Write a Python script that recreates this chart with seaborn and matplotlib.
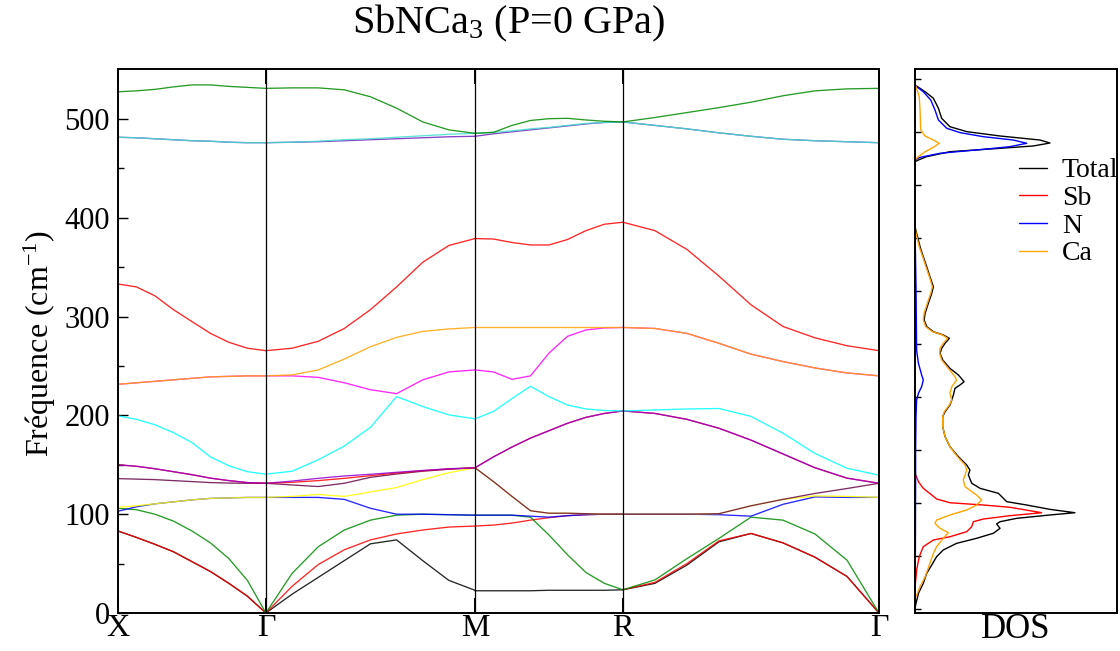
import numpy as np
import pandas as pd
import matplotlib
matplotlib.use("Agg")
import matplotlib.pyplot as plt
import seaborn as sns

sns.set_theme(style="ticks")
plt.rcParams['font.family'] = ['Liberation Serif', 'DejaVu Serif']
plt.rcParams['mathtext.fontset'] = 'custom'
plt.rcParams['mathtext.rm'] = 'Liberation Serif'
plt.rcParams['mathtext.it'] = 'Liberation Serif:italic'
for key in ['text.color', 'axes.labelcolor', 'xtick.color', 'ytick.color', 'axes.edgecolor']:
    plt.rcParams[key] = 'black'

# ---------------- data ----------------
k_labels = ['X', 'Γ', 'M', 'R', 'Γ']
k_nodes = [0.0, 0.5, 1.2071, 1.7071, 2.5731]

line_colors = ['#000000', '#ff0000', '#008b00', '#0000ff', '#ffff00', '#670748',
               '#ff0000', '#9400d3', '#00ffff', '#ff00ff', '#ffa500', '#ff0000',
               '#7221bc', '#40e0d0', '#008b00']

# X -> Gamma
seg_XG = [
    [83, 76.5, 69.5, 62, 52, 42, 30, 17, 0],
    [83, 76.5, 69.5, 62, 52, 42, 30, 17, 0],
    [106, 104.5, 100, 93, 83, 71, 55, 33, 0],
    [103, 107.5, 110.5, 112.5, 114.5, 116, 116.5, 117, 117],
    [107, 108.5, 110.5, 112.5, 114.5, 116, 116.5, 117, 117],
    [136, 135.5, 135, 134, 133, 132, 131.5, 131.3, 131.3],
    [150, 148.5, 146, 143, 140, 136.5, 134, 132, 131.3],
    [150, 148.5, 146, 143, 140, 136.5, 134, 132, 131.3],
    [199.5, 196, 190.5, 182.5, 172.5, 158, 149, 143, 140.5],
    [231.5, 233, 234.5, 236, 237.5, 239, 239.5, 240, 240],
    [231.5, 233, 234.5, 236, 237.5, 239, 239.5, 240, 240],
    [333, 330, 321, 307, 295, 283, 274, 268, 265.5],
    [481.5, 481, 480, 479, 478, 477.5, 476.5, 476, 476],
    [481.5, 481, 480, 479, 478, 477.5, 476.5, 476, 476],
    [527.5, 528.5, 530, 532.5, 534.5, 534.5, 533, 532, 531],
]

# Gamma -> M
seg_GM = [
    [0, 19, 36, 53, 70, 74, 53, 33, 23],
    [0, 27, 49, 64, 74, 80, 84, 87, 88],
    [0, 40, 67, 84, 94, 99, 100, 99.5, 99],
    [117, 117, 117, 115, 106, 100, 100, 99.5, 99],
    [117, 118, 120, 118, 122.5, 127, 135, 142, 147],
    [131.3, 129.6, 128, 131.3, 137.3, 140.7, 143.5, 145.5, 147],
    [131.3, 132.3, 134, 136.3, 139, 141.7, 144, 145.8, 147],
    [131.3, 133.5, 136.3, 138.7, 140.4, 142.4, 144.3, 146, 147],
    [140.5, 143.5, 155, 169, 188, 219, 209, 200.5, 196.5],
    [240, 240, 238.5, 233, 226, 222, 236, 244, 246],
    [240, 241, 246, 257, 269.5, 279, 285, 287.5, 289],
    [265.5, 268, 275, 288, 307, 330, 355, 372, 379],
    [476, 476.5, 477, 478, 479, 480, 481, 482, 482.5],
    [476, 476.5, 477.5, 479, 480, 481.5, 483, 484.5, 485.5],
    [531, 531.5, 531.5, 529.5, 522.5, 511, 497, 489, 485.5],
]

# M -> R
seg_MR = [
    [22.5, 22.5, 22.5, 22.5, 23, 23, 23, 23, 23.5],
    [88, 89, 91, 94, 96.5, 98.5, 99.5, 100, 100],
    [99, 99, 99, 97, 79, 59, 41, 30, 23.5],
    [99, 99, 99, 98, 97, 98.5, 99.5, 100, 100],
    [147, 133, 118, 103.5, 101, 101, 100.5, 100, 100],
    [147, 133, 118, 103.5, 101, 101, 100.5, 100, 100],
    [147, 158, 168, 177, 184.5, 192, 198, 202, 204.5],
    [147, 158, 168, 177, 184.5, 192, 198, 202, 204.5],
    [196.5, 204, 217, 229.5, 219, 210.5, 206.5, 205, 204.5],
    [246, 244, 236.5, 240, 263, 280, 286.5, 288.5, 289],
    [289, 289, 289, 289, 289, 289, 289, 289, 289],
    [379, 378.5, 375, 372.5, 372.5, 378, 387, 393.5, 395.5],
    [482.5, 485, 487, 489, 491, 493, 495, 496.5, 497],
    [485.5, 486.5, 488, 490, 491.5, 493.5, 495.5, 496.5, 497],
    [485.5, 486.5, 493.5, 498.5, 500.3, 500.7, 499, 497.7, 497],
]

# R -> Gamma
seg_RG = [
    [23.5, 30, 48.5, 72, 80.5, 71, 56.5, 37, 0],
    [23.5, 31, 50, 73, 80.5, 71, 56.5, 37, 0],
    [23.5, 33.5, 55, 75.5, 97, 94, 80, 53.5, 0],
    [100, 100, 100, 99.5, 98, 110, 117.5, 117, 117],
    [100, 100, 100, 100.5, 108.5, 115, 118.5, 118, 117],
    [100, 100, 100, 100.5, 108.5, 115, 121, 126, 131.3],
    [204.5, 202, 196, 187, 175, 161, 147, 136.5, 131.3],
    [204.5, 202, 196, 187, 175, 161, 147, 136.5, 131.3],
    [204.5, 205.5, 206.5, 207, 199, 182, 161.5, 146.5, 139.5],
    [289, 288, 283, 273, 262, 254.5, 248, 243, 240],
    [289, 288, 283, 273, 262, 254.5, 248, 243, 240],
    [395.5, 387, 368, 341, 312, 290, 278.5, 270.5, 265.5],
    [497, 493.5, 490, 486, 482.5, 479.5, 478, 477, 476],
    [497, 493.5, 490, 486, 482.5, 479.5, 478, 477, 476],
    [497, 501.5, 506.5, 511.5, 517, 523.5, 528.5, 530.5, 531],
]
segments = [seg_XG, seg_GM, seg_MR, seg_RG]

# DOS (frequency, density in arbitrary units)
total_f = [4.7, 9.8, 19.9, 30, 40.2, 48.6, 57, 63.8, 70.5, 75.6, 80.7, 85.7, 90.1, 92.4,
           95.8, 99.2, 101.5, 104.9, 109.3, 112.7, 121.1, 126.2, 131.3, 139.7, 144.7,
           149.8, 158.2, 168.3, 178.4, 188.6, 198.7, 203.8, 210.5, 215.6, 220.6, 227.4,
           230.8, 234.1, 240.9, 247.6, 256.1, 262.8, 267.9, 273, 278, 281.4, 284.7,
           289.8, 296.6, 303.3, 313.5, 323.6, 330.3, 340.4, 350.5, 360.6, 370.7, 384.3,
           391, 456.8, 458.5, 461.9, 466.9, 470.3, 472.7, 475.7, 478.7, 482.8, 487.2,
           492.2, 500.7, 510.8, 521, 527.6, 532.1, 534.4]
total_d = [0, 0.5, 1.7, 4.1, 5.8, 8.3, 10.7, 14, 20.6, 30.5, 38.8, 42.1, 40.4, 42.1,
           50.3, 66.8, 79.2, 66.8, 55.3, 45.4, 41.3, 32.2, 28.1, 26.4, 27.2,
           25.6, 21.5, 17.3, 14.9, 13.7, 13.7, 14.9, 17.3, 18.2, 19, 19.8,
           22.3, 24.3, 21.5, 17.3, 13.7, 12.4, 13.2, 14.9, 17, 14, 9.1,
           5.8, 4.5, 5, 6.6, 8.3, 9.1, 7.4, 5.8, 4.1, 2.5, 0.8,
           0, 0, 1.7, 5.8, 17.3, 42.1, 58.6, 66.8, 61.9, 42.1, 25.6,
           17.3, 13.2, 11.6, 9.1, 5, 1.7, 0]

sb_f = [23.3, 30, 43.5, 57, 67.1, 73.9, 77.2, 82.3, 87.4, 92.4, 95.1, 98.5, 101.5,
        107, 109.3, 111.6, 115.4, 119.4, 126.2, 132.9, 141.4]
sb_d = [0, 0.2, 0.8, 2.1, 4.1, 9.1, 17.3, 25.6, 28.1, 28.9, 33.8, 47, 62.7,
        47, 33.8, 17.3, 10.7, 8.3, 4.1, 1.7, 0]

n_f = [20, 63.8, 131.3, 165, 198.7, 215.6, 222.4, 229.1, 235.8, 240.9, 252.7, 266, 330,
       391, 458.5, 461.2, 465.3, 469.3, 472, 475.4, 478.7, 482.1, 486.2, 490.6, 499,
       509.1, 519.2, 527.6, 532.7, 534.4]
n_d = [0, 0.2, 0.3, 0.3, 0.5, 0.8, 1.7, 3.3, 4.1, 3.3, 1.7, 0.8, 0.5,
       0, 0, 2.5, 12.4, 33.8, 47, 55.3, 48.7, 33.8, 22.3, 15.7, 11.6,
       9.9, 7.8, 4.1, 0.8, 0]

ca_f = [14.8, 18.2, 26.6, 36.7, 50.3, 60.4, 67.1, 75.6, 81.3, 85.7, 90.8, 94.1, 99.2,
        104.3, 109.3, 114.4, 119.4, 127.8, 134.6, 144.7, 149.8, 158.2, 168.3, 178.4,
        188.6, 198.7, 203.8, 210.5, 215.6, 222.4, 229.1, 235.8, 239.2, 247.6, 256.1,
        262.8, 267.9, 273, 278, 281.4, 284.7, 289.8, 296.6, 303.3, 313.5, 323.6, 330.3,
        340.4, 350.5, 360.6, 370.7, 384.3, 391, 458.5, 461.9, 466.9, 471.3, 475.4,
        478.7, 482.8, 488.9, 509.1, 522.6, 532.7, 536.1]
ca_d = [0, 0.8, 2.5, 5, 7.4, 9.1, 10.7, 14, 16.5, 12.4, 9.9, 10.7, 17.3,
        25.6, 30.5, 33, 30.5, 24.8, 23.9, 25.6, 24.8, 21, 17.3, 14.9,
        13.7, 13.7, 14.5, 17, 18.2, 17.3, 18.2, 20.6, 19.8, 16.5, 13.2,
        12.2, 12.4, 14, 16.2, 13.5, 8.6, 5.3, 4.1, 4.5, 6.1, 7.8, 8.6,
        7.1, 5.4, 3.8, 2.1, 0.5, 0, 0, 1.7, 5, 9.1, 12,
        9.1, 5, 2.8, 2.5, 2.1, 0.5, 0]

dos_names = ['Total', 'Sb', 'N', 'Ca']
dos_colors = ['#000000', '#ff0000', '#0000ff', '#ffa500']
dos_ticks = [4, 57.5, 111, 165, 218.5, 272, 326, 379.5, 433, 486.5, 540]

# ---------------- figure ----------------
W, H = 1120, 651
fig = plt.figure(figsize=(W / 100, H / 100), dpi=100)
ax = fig.add_axes([118 / W, 38 / H, 761 / W, 544 / H])
ax2 = fig.add_axes([915 / W, 38 / H, 202 / W, 544 / H])
YMAX = 550.6

for s, seg in enumerate(segments):
    kk = np.linspace(k_nodes[s], k_nodes[s + 1], len(seg[0]))
    for b, vals in enumerate(seg):
        sns.lineplot(x=kk, y=vals, color=line_colors[b], lw=0.95, alpha=0.85,
                     sort=False, estimator=None, ax=ax, legend=False)

for kx in k_nodes[1:-1]:
    ax.axvline(kx, color='black', lw=0.9, zorder=3)

ax.set_xlim(k_nodes[0], k_nodes[-1])
ax.set_ylim(0, YMAX)
ax.set_xticks(k_nodes)
ax.set_xticklabels(k_labels, fontsize=23)
ax.set_yticks(range(0, 501, 100))
ax.set_yticks(range(50, 501, 100), minor=True)
ax.tick_params(axis='y', which='major', direction='in', length=7, width=1.0,
               labelsize=22, pad=6, left=True, right=False)
ax.tick_params(axis='y', which='minor', direction='in', length=4, width=1.0, left=True)
ax.tick_params(axis='x', which='major', direction='in', length=11, width=1.4,
               top=True, bottom=True, pad=1)
for sp in ax.spines.values():
    sp.set_linewidth(1.4)
    sp.set_color('black')

# DOS panel
dos_sets = [(total_f, total_d), (sb_f, sb_d), (n_f, n_d), (ca_f, ca_d)]
for (ff, dd), col in zip(dos_sets, dos_colors):
    sns.lineplot(x=dd, y=ff, color=col, lw=1.0, sort=False, estimator=None,
                 ax=ax2, legend=False)
ax2.set_xlim(0, 100)
ax2.set_ylim(0, YMAX)
ax2.set_xticks([])
ax2.set_yticks(dos_ticks)
ax2.set_yticklabels([])
ax2.tick_params(axis='y', direction='in', length=4, width=1.0, left=True, right=False)
for sp in ax2.spines.values():
    sp.set_linewidth(1.4)
    sp.set_color('black')
ax2.set_xlabel('DOS', fontsize=25, labelpad=0)
ax2.set_ylabel('')

handles = [plt.Line2D([], [], color=c, lw=1.0) for c in dos_colors]
ax2.legend(handles, dos_names, loc='upper left', bbox_to_anchor=(1005 / W, 1 - 144 / H),
           bbox_transform=fig.transFigure, frameon=False, fontsize=20,
           handlelength=1.0, handletextpad=0.55, labelspacing=0.08, borderpad=0)

fig.text(509 / W, 1 - 33 / H, 'SbNCa$_3$ (P=0 GPa)', ha='center', va='baseline', fontsize=29)
fig.text(40 / W, 1 - 343 / H, 'Fréquence (cm$^{-1}$)', ha='center', va='center',
         rotation=90, fontsize=23)

fig.savefig('out.png', dpi=100, facecolor='white')
